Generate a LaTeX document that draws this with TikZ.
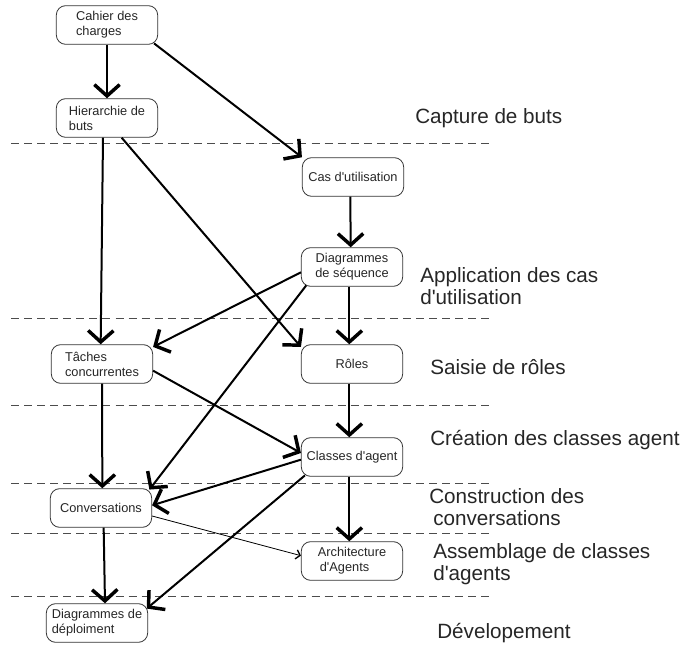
\documentclass[tikz,border=0pt]{standalone}
\usepackage{fontspec}
\setmainfont{Liberation Sans}
\usetikzlibrary{arrows.meta}
\newcommand{\ap}{\textquotesingle}
\begin{document}
\begin{tikzpicture}[x=0.75pt,y=-0.75pt,
  box/.style={draw=black!80, line width=0.6pt, rounded corners=7pt, minimum width=76pt, minimum height=29pt, inner sep=2pt, font=\fontsize{9.6}{11.2}\selectfont, text=black!85},
  flow/.style={line width=1.5pt, -{Straight Barb[length=8.5pt,width=19pt,line width=2.6pt]}},
  thinflow/.style={line width=0.6pt, -{Straight Barb[length=3pt,width=7pt,line width=1pt]}},
  sep/.style={dash pattern=on 6pt off 3.8pt, draw=black!70, line width=0.6pt},
  stage/.style={anchor=west, align=left, font=\fontsize{15.5}{17}\selectfont, text=black!85, inner sep=0pt}
]
\useasboundingbox (0,0) rectangle (687,645);

% separators
\foreach \yy in {143,318,405,483,533,596}
  \draw[sep] (11,\yy) -- (493,\yy);

% nodes
\node[box, align=left] (cahier) at (107,25) {Cahier des\\charges};
\node[box, align=left] (hier) at (107,118) {Hierarchie de\\buts};
\node[box] (cas) at (353,177) {Cas d\ap utilisation};
\node[box, align=center] (seq) at (352,267) {Diagrammes\\de séquence};
\node[box, align=left] (taches) at (102,364) {Tâches\\concurrentes};
\node[box] (roles) at (352,364) {Rôles};
\node[box] (classes) at (352,457) {Classes d\ap agent};
\node[box, align=left] (arch) at (352,561) {Architecture\\\hspace*{1.5pt}d\ap Agents};
\node[box] (conv) at (101,508) {Conversations};
\node[box, align=left] (deploy) at (97,623) {Diagrammes de\\déploiment};

% stage labels
\node[stage] (l1) at (415,118) {Capture de buts};
\node[stage] (l2) at (420,286) {Application des cas\\d\ap utilisation};
\node[stage] (l3) at (430,367) {Saisie de rôles};
\node[stage] (l4) at (430,440) {Création des classes agent};
\node[stage] (l5) at (429,507) {Construction des\\\hspace*{3pt}conversations};
\node[stage] (l6) at (433,564) {Assemblage de classes\\d\ap agents};
\node[stage] (l7) at (437,633) {Dévelopement};

% connectors
\draw[flow] (cahier) -- (hier);
\draw[flow] ([xshift=-3pt,yshift=1pt]cahier.south east) -- (cas.north west);
\draw[flow] ([xshift=-3pt]hier.south) -- ([xshift=-1pt]taches.north);
\draw[flow] ([xshift=11pt]hier.south) -- ([yshift=-2pt]roles.north west);
\draw[flow] ([xshift=-2pt]cas.south) -- ([xshift=-1pt]seq.north);
\draw[flow] ([yshift=-4pt]seq.west) -- ([yshift=-2pt]taches.north east);
\draw[flow] ([xshift=4pt,yshift=1pt]seq.south west) -- ([xshift=-2pt,yshift=-1pt]conv.north east);
\draw[flow] ([xshift=-2pt]seq.south) -- ([xshift=-2pt]roles.north);
\draw[flow] ([yshift=-5pt]taches.east) -- ([yshift=3pt]classes.west);
\draw[flow] (taches) -- ([xshift=1pt]conv.north);
\draw[flow] ([xshift=-2pt]roles.south) -- ([xshift=-2pt]classes.north);
\draw[flow] ([yshift=-2pt]classes.west) -- ([yshift=2pt]conv.east);
\draw[flow] ([xshift=-2pt]classes.south) -- ([xshift=-2pt]arch.north);
\draw[flow] ([xshift=3pt,yshift=1pt]classes.south west) -- ([xshift=-1pt,yshift=-4pt]deploy.north east);
\draw[thinflow] ([yshift=-6pt]conv.east) -- ([yshift=4pt]arch.west);
\draw[flow] ([xshift=2pt]conv.south) -- ([xshift=6pt]deploy.north);
\end{tikzpicture}
\end{document}
